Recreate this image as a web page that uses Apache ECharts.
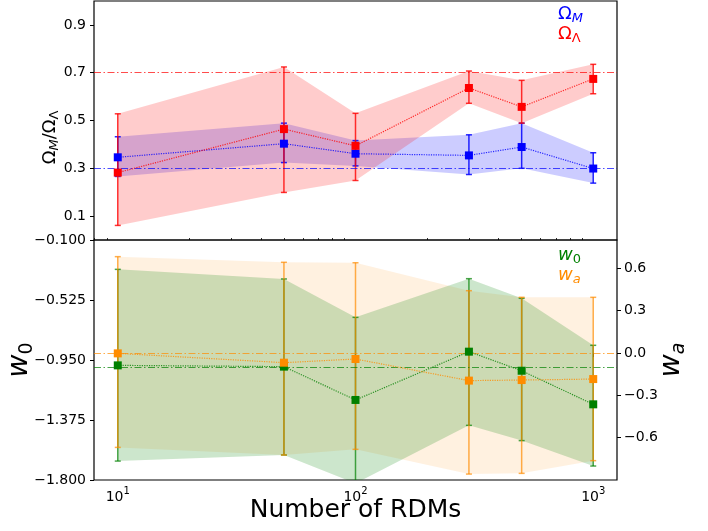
<!DOCTYPE html>
<html>
<head>
<meta charset="utf-8">
<script src="https://cdn.jsdelivr.net/npm/echarts@6/dist/echarts.min.js"></script>
<style>
html, body { margin: 0; padding: 0; background: #fff; }
#chart { width: 708px; height: 531px; }
</style>
</head>
<body>
<div id="chart"></div>
<script>
// number of RDMs
var nRdm = [10, 50, 100, 300, 500, 1000];

// Omega_M : marker, lower / upper error
var omMid = [0.346, 0.403, 0.361, 0.354, 0.389, 0.299];
var omLo  = [0.266, 0.324, 0.310, 0.274, 0.300, 0.238];
var omHi  = [0.432, 0.489, 0.416, 0.440, 0.489, 0.365];

// Omega_Lambda
var olMid = [0.282, 0.464, 0.394, 0.636, 0.557, 0.674];
var olLo  = [0.061, 0.199, 0.249, 0.572, 0.489, 0.612];
var olHi  = [0.528, 0.724, 0.530, 0.707, 0.668, 0.735];

// w0
var w0Mid = [-0.988, -0.997, -1.233, -0.891, -1.026, -1.264];
var w0Lo  = [-1.666, -1.623, -1.824, -1.413, -1.521, -1.701];
var w0Hi  = [-0.308, -0.376, -0.648, -0.374, -0.513, -0.846];

// wa
var waMid = [-0.003, -0.069, -0.043, -0.196, -0.192, -0.185];
var waLo  = [-0.669, -0.723, -0.683, -0.858, -0.853, -0.763];
var waHi  = [0.682, 0.642, 0.639, 0.441, 0.394, 0.394];

// true values (dash-dot lines)
var omTrue = 0.3, olTrue = 0.7, w0True = -1.0, waTrue = 0.0;

// ticks
var omTicks = [0.1, 0.3, 0.5, 0.7, 0.9];
var w0Ticks = [-1.8, -1.375, -0.95, -0.525, -0.1];
var waTicks = [-0.6, -0.3, 0.0, 0.3, 0.6];
var xMajor = [10, 100, 1000];
var xMinor = [8, 9, 20, 30, 40, 50, 60, 70, 80, 90, 200, 300, 400, 500, 600, 700, 800, 900];

// x axis is drawn in log10 space (10^0.9 .. 10^3.1)
var lx = nRdm.map(Math.log10);
var FONT = 'DejaVu Sans';
var dashDot = [7, 2.5, 1.5, 2.5];

function pairs(ys) { return lx.map(function (x, i) { return [x, ys[i]]; }); }
function bars(lo, hi) { return lx.map(function (x, i) { return [x, lo[i], hi[i]]; }); }
function minus(s) { return s.replace('-', '\u2212'); }

// shaded band between lower and upper error, one polygon
function band(lo, hi, fill, xi, yi) {
  return {
    type: 'custom', xAxisIndex: xi, yAxisIndex: yi, data: bars(lo, hi), z: 1, silent: true, clip: true,
    encode: {x: 0, y: [1, 2]},
    renderItem: function (params, api) {
      if (params.dataIndex !== 0) return null;
      var pts = [], i;
      for (i = 0; i < lx.length; i++) pts.push(api.coord([lx[i], hi[i]]));
      for (i = lx.length - 1; i >= 0; i--) pts.push(api.coord([lx[i], lo[i]]));
      return {type: 'polygon', shape: {points: pts}, style: {fill: fill}};
    }
  };
}

function errBar(lo, hi, color, xi, yi) {
  return {
    type: 'custom', xAxisIndex: xi, yAxisIndex: yi, data: bars(lo, hi), z: 3, silent: true, clip: true,
    encode: {x: 0, y: [1, 2]},
    renderItem: function (params, api) {
      var t = api.coord([api.value(0), api.value(2)]);
      var b = api.coord([api.value(0), api.value(1)]);
      var st = {stroke: color, lineWidth: 1.5};
      return {type: 'group', children: [
        {type: 'line', shape: {x1: t[0], y1: t[1], x2: b[0], y2: b[1]}, style: st},
        {type: 'line', shape: {x1: t[0] - 3, y1: t[1], x2: t[0] + 3, y2: t[1]}, style: st},
        {type: 'line', shape: {x1: b[0] - 3, y1: b[1], x2: b[0] + 3, y2: b[1]}, style: st}
      ]};
    }
  };
}

function marks(name, mid, color, xi, yi, truth) {
  return {
    type: 'line', name: name, xAxisIndex: xi, yAxisIndex: yi, data: pairs(mid), z: 5,
    symbol: 'rect', symbolSize: 8, showAllSymbol: true,
    itemStyle: {color: color},
    lineStyle: {color: color, type: 'dotted', width: 1.2, opacity: 0.8},
    markLine: {
      silent: true, symbol: 'none', label: {show: false}, animation: false,
      lineStyle: {color: color, type: dashDot, width: 1.2, opacity: 0.7},
      data: [{yAxis: truth}]
    }
  };
}

var subStyle = function (color, italic) {
  return {color: color, fontFamily: FONT, fontSize: 13, fontStyle: italic ? 'italic' : 'normal',
          lineHeight: 22, verticalAlign: 'bottom'};
};
var mainStyle = function (color, italic) {
  return {color: color, fontFamily: FONT, fontSize: 18, fontStyle: italic ? 'italic' : 'normal',
          lineHeight: 18, verticalAlign: 'middle'};
};

var legendRich = {
  bO: mainStyle('#0000ff'), bS: subStyle('#0000ff', true),
  rO: mainStyle('#ff0000'), rS: subStyle('#ff0000', false),
  gW: mainStyle('#008000', true), gS: subStyle('#008000', false),
  oW: mainStyle('#ff8c00', true), oS: subStyle('#ff8c00', true)
};
var legendText = {
  'Ω_M': '{bO|Ω}{bS|M}', 'Ω_Λ': '{rO|Ω}{rS|Λ}',
  'w_0': '{gW|w}{gS|0}', 'w_a': '{oW|w}{oS|a}'
};

var tickStyle = {length: 4, lineStyle: {color: '#000', width: 1}};
var labelBase = {color: '#000', fontFamily: FONT, fontSize: 14};
var xHidden = {type: 'value', min: 0.9, max: 3.1, axisLabel: {show: false},
               axisLine: {show: false}, splitLine: {show: false}};

var chart = echarts.init(document.getElementById('chart'));
chart.setOption({
  animation: false,
  backgroundColor: '#fff',
  grid: [
    {left: 94, right: 91, top: 1, height: 239, show: true, borderColor: '#000', borderWidth: 1.2,
     outerBoundsMode: 'none'},
    {left: 94, right: 91, top: 240, height: 240, show: true, borderColor: '#000', borderWidth: 1.2,
     outerBoundsMode: 'none'}
  ],
  legend: [
    {data: ['Ω_M', 'Ω_Λ'], orient: 'vertical', left: 548, top: 0, icon: 'none', itemWidth: 0,
     itemGap: 0, selectedMode: false, formatter: function (n) { return legendText[n]; },
     textStyle: {rich: legendRich}},
    {data: ['w_0', 'w_a'], orient: 'vertical', left: 548, top: 241, icon: 'none', itemWidth: 0,
     itemGap: 0, selectedMode: false, formatter: function (n) { return legendText[n]; },
     textStyle: {rich: legendRich}}
  ],
  xAxis: [
    Object.assign({gridIndex: 0, axisTick: {show: false}}, xHidden),
    {type: 'value', gridIndex: 1, min: 0.9, max: 3.1, axisLine: {show: false}, splitLine: {show: false},
     axisTick: Object.assign({customValues: xMajor.map(Math.log10)}, tickStyle),
     axisLabel: {
       customValues: xMajor.map(Math.log10), margin: 6,
       formatter: function (v) { return '{b|10}{p|' + Math.round(v) + '}'; },
       rich: {
         b: {color: '#000', fontFamily: FONT, fontSize: 14, lineHeight: 22, verticalAlign: 'middle'},
         p: {color: '#000', fontFamily: FONT, fontSize: 10, lineHeight: 22, verticalAlign: 'top'}
       }
     },
     name: 'Number of RDMs', nameLocation: 'middle', nameGap: 18, nameMoveOverlap: false,
     nameTextStyle: {color: '#000', fontFamily: FONT, fontSize: 25}},
    // minor ticks
    Object.assign({gridIndex: 1, axisTick: {customValues: xMinor.map(Math.log10), length: 2,
      lineStyle: {color: '#000', width: 0.8}}}, xHidden)
  ],
  yAxis: [
    {type: 'value', gridIndex: 0, min: 0, max: 1, axisLine: {show: false}, splitLine: {show: false},
     axisTick: Object.assign({customValues: omTicks}, tickStyle),
     axisLabel: Object.assign({customValues: omTicks, margin: 8,
       formatter: function (v) { return v.toFixed(1); }}, labelBase),
     name: '{o|Ω}{s|M}{o|/Ω}{t|Λ}', nameLocation: 'middle', nameGap: 33, nameMoveOverlap: false,
     nameTextStyle: {padding: [0, 34, 0, 0], rich: {
       o: {color: '#000', fontFamily: FONT, fontSize: 18, lineHeight: 18, verticalAlign: 'middle'},
       s: {color: '#000', fontFamily: FONT, fontSize: 13, fontStyle: 'italic', lineHeight: 22, verticalAlign: 'bottom'},
       t: {color: '#000', fontFamily: FONT, fontSize: 13, lineHeight: 22, verticalAlign: 'bottom'}
     }}},
    {type: 'value', gridIndex: 1, min: -1.8, max: -0.1, position: 'left',
     axisLine: {show: false}, splitLine: {show: false},
     axisTick: Object.assign({customValues: w0Ticks}, tickStyle),
     axisLabel: Object.assign({customValues: w0Ticks, margin: 8,
       formatter: function (v) { return minus(v.toFixed(3)); }}, labelBase),
     name: '{w|w}{s|0}', nameLocation: 'middle', nameGap: 57, nameMoveOverlap: false,
     nameTextStyle: {rich: {
       w: {color: '#000', fontFamily: FONT, fontSize: 28, fontStyle: 'italic', lineHeight: 28, verticalAlign: 'middle'},
       s: {color: '#000', fontFamily: FONT, fontSize: 19, lineHeight: 34, verticalAlign: 'bottom'}
     }}},
    {type: 'value', gridIndex: 1, min: -0.9, max: 0.8, position: 'right',
     axisLine: {show: false}, splitLine: {show: false},
     axisTick: Object.assign({customValues: waTicks}, tickStyle),
     axisLabel: Object.assign({customValues: waTicks, margin: 7,
       formatter: function (v) { return minus(v.toFixed(1)); }}, labelBase),
     name: '{w|w}{s|a}', nameLocation: 'middle', nameGap: 38, nameMoveOverlap: false,
     nameTextStyle: {rich: {
       w: {color: '#000', fontFamily: FONT, fontSize: 28, fontStyle: 'italic', lineHeight: 28, verticalAlign: 'middle'},
       s: {color: '#000', fontFamily: FONT, fontSize: 19, fontStyle: 'italic', lineHeight: 34, verticalAlign: 'bottom'}
     }}}
  ],
  series: [
    band(omLo, omHi, 'rgba(0,0,255,0.2)', 0, 0),
    band(olLo, olHi, 'rgba(255,0,0,0.2)', 0, 0),
    errBar(omLo, omHi, 'rgba(0,0,255,0.85)', 0, 0),
    errBar(olLo, olHi, 'rgba(255,0,0,0.8)', 0, 0),
    marks('Ω_M', omMid, '#0000ff', 0, 0, omTrue),
    marks('Ω_Λ', olMid, '#ff0000', 0, 0, olTrue),
    band(waLo, waHi, 'rgba(255,140,0,0.12)', 1, 2),
    band(w0Lo, w0Hi, 'rgba(0,128,0,0.2)', 1, 1),
    errBar(w0Lo, w0Hi, 'rgba(0,128,0,0.7)', 1, 1),
    errBar(waLo, waHi, 'rgba(255,140,0,0.7)', 1, 2),
    marks('w_0', w0Mid, '#008000', 1, 1, w0True),
    marks('w_a', waMid, '#ff8c00', 1, 2, waTrue)
  ]
});
</script>
</body>
</html>
